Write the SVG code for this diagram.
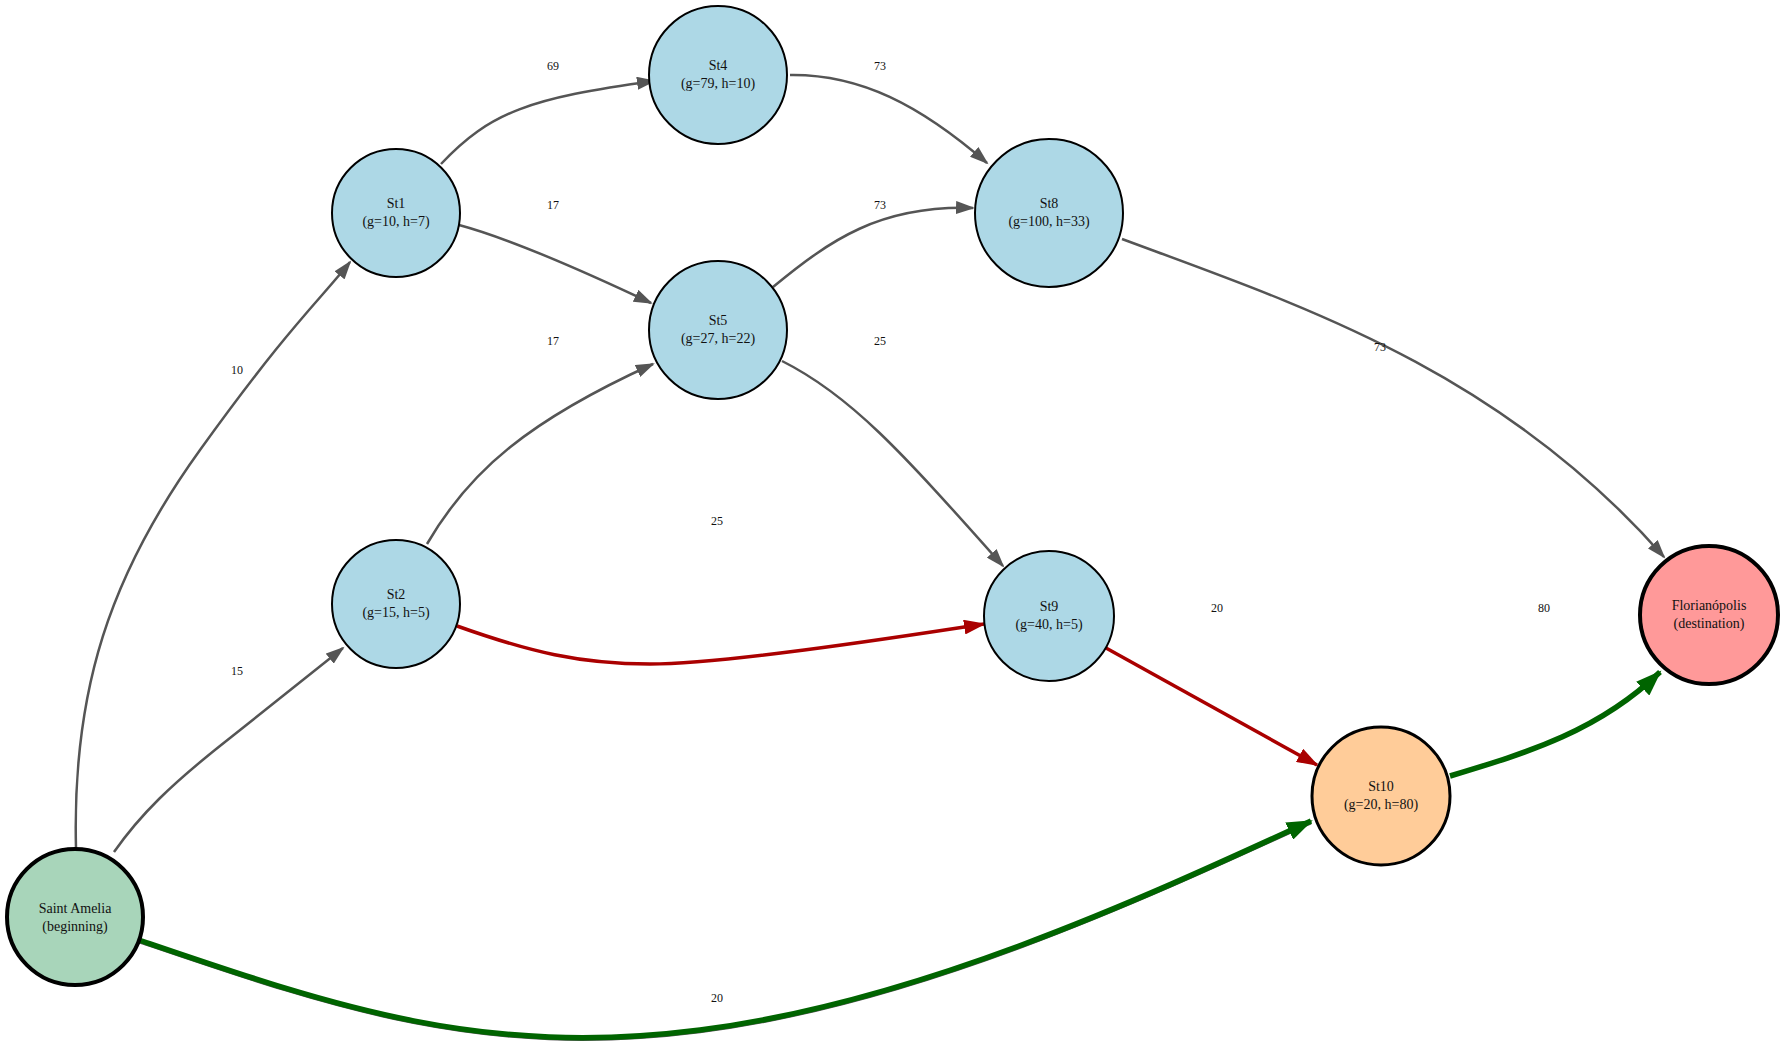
<svg xmlns="http://www.w3.org/2000/svg" width="1784" height="1045" viewBox="0 0 1784 1045">
<style>
.node-text{font-family:"Liberation Serif","Times New Roman",serif;font-size:14px;fill:#111;text-anchor:middle}
.edge-label{font-family:"Liberation Serif","Times New Roman",serif;font-size:12px;fill:#111;text-anchor:middle;dominant-baseline:central}
.blue{fill:#add8e6;stroke:#000;stroke-width:2}
.e{fill:none;stroke:#555555;stroke-width:2.5}
.red{fill:none;stroke:#aa0000;stroke-width:3.5}
.green{fill:none;stroke:#006400;stroke-width:5.5}
</style>
<defs>
<marker id="ag" markerUnits="userSpaceOnUse" markerWidth="20" markerHeight="13" refX="17" refY="6.5" orient="auto"><path d="M0,0 L19,6.5 L0,13 z" fill="#555555"/></marker>
<marker id="ar" markerUnits="userSpaceOnUse" markerWidth="23" markerHeight="15" refX="20" refY="7.5" orient="auto"><path d="M0,0 L22,7.5 L0,15 z" fill="#aa0000"/></marker>
<marker id="agr" markerUnits="userSpaceOnUse" markerWidth="27" markerHeight="19" refX="24" refY="9.5" orient="auto"><path d="M0,0 L26,9.5 L0,19 z" fill="#006400"/></marker>
</defs>
<rect width="1784" height="1045" fill="#fff"/>
<g id="connectors">
<path class="e" d="M 76 848 C 72 690, 110 575, 200 450 S 320 300 350 262" marker-end="url(#ag)"/>
<path class="e" d="M 114 852 C 140 815, 170 785, 230 738 L 343 648" marker-end="url(#ag)"/>
<path class="e" d="M 139 942 C 330 1007, 480 1060, 700 1032 S 1150 897 1311 823"/>
<path class="green" d="M 139 940 C 330 1005, 480 1058, 700 1030 S 1150 895 1311 821" marker-end="url(#agr)"/>
<path class="e" d="M 441 164 C 490 112, 530 98, 654 81" marker-end="url(#ag)"/>
<path class="e" d="M 459 225 C 500 236, 560 260, 651 303" marker-end="url(#ag)"/>
<path class="e" d="M 427 544 C 470 470, 530 420, 653 364" marker-end="url(#ag)"/>
<path class="e" d="M 790 75 C 860 74, 920 105, 987 163" marker-end="url(#ag)"/>
<path class="e" d="M 773 287 C 830 240, 880 205, 973 208" marker-end="url(#ag)"/>
<path class="e" d="M 782 361 C 850 395, 900 450, 1003 566" marker-end="url(#ag)"/>
<path class="red" d="M 457 626 C 530 652, 580 664, 650 664 S 880 640 984 624" marker-end="url(#ar)"/>
<path class="e" d="M 1122 239 C 1300 305, 1500 370, 1664 557" marker-end="url(#ag)"/>
<path class="red" d="M 1106 648 L 1317 765" marker-end="url(#ar)"/>
<path class="green" d="M 1450 776 C 1530 752, 1600 730, 1660 672" marker-end="url(#agr)"/>
<text class="edge-label" x="237" y="370">10</text>
<text class="edge-label" x="237" y="671">15</text>
<text class="edge-label" x="717" y="998">20</text>
<text class="edge-label" x="553" y="66">69</text>
<text class="edge-label" x="553" y="205">17</text>
<text class="edge-label" x="553" y="341">17</text>
<text class="edge-label" x="880" y="66">73</text>
<text class="edge-label" x="880" y="205">73</text>
<text class="edge-label" x="880" y="341">25</text>
<text class="edge-label" x="717" y="521">25</text>
<text class="edge-label" x="1380" y="347">73</text>
<text class="edge-label" x="1217" y="608">20</text>
<text class="edge-label" x="1544" y="608">80</text>
</g>
<g id="node-saint-amelia">
<circle cx="75" cy="917" r="68" fill="#a8d5ba" stroke="#000" stroke-width="4"/>
<text class="node-text" x="75" y="913">Saint Amelia</text>
<text class="node-text" x="75" y="931">(beginning)</text>
</g>
<g id="node-st1">
<circle class="blue" cx="396" cy="213" r="64"/>
<text class="node-text" x="396" y="208">St1</text>
<text class="node-text" x="396" y="226">(g=10, h=7)</text>
</g>
<g id="node-st2">
<circle class="blue" cx="396" cy="604" r="64"/>
<text class="node-text" x="396" y="599">St2</text>
<text class="node-text" x="396" y="617">(g=15, h=5)</text>
</g>
<g id="node-st4">
<circle class="blue" cx="718" cy="75" r="69"/>
<text class="node-text" x="718" y="70">St4</text>
<text class="node-text" x="718" y="88">(g=79, h=10)</text>
</g>
<g id="node-st5">
<circle class="blue" cx="718" cy="330" r="69"/>
<text class="node-text" x="718" y="325">St5</text>
<text class="node-text" x="718" y="343">(g=27, h=22)</text>
</g>
<g id="node-st8">
<circle class="blue" cx="1049" cy="213" r="74"/>
<text class="node-text" x="1049" y="208">St8</text>
<text class="node-text" x="1049" y="226">(g=100, h=33)</text>
</g>
<g id="node-st9">
<circle class="blue" cx="1049" cy="616" r="65"/>
<text class="node-text" x="1049" y="611">St9</text>
<text class="node-text" x="1049" y="629">(g=40, h=5)</text>
</g>
<g id="node-st10">
<circle cx="1381" cy="796" r="69" fill="#ffcc99" stroke="#000" stroke-width="3"/>
<text class="node-text" x="1381" y="791">St10</text>
<text class="node-text" x="1381" y="809">(g=20, h=80)</text>
</g>
<g id="node-florianopolis">
<circle cx="1709" cy="615" r="69" fill="#ff9999" stroke="#000" stroke-width="4"/>
<text class="node-text" x="1709" y="610">Florianópolis</text>
<text class="node-text" x="1709" y="628">(destination)</text>
</g>
</svg>
